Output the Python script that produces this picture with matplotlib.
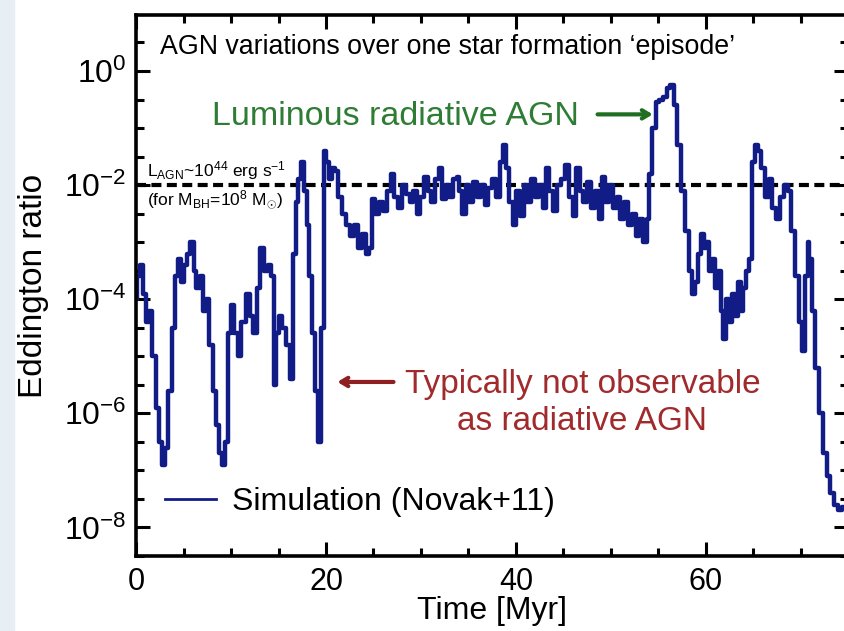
import numpy as np
import matplotlib
matplotlib.use("Agg")
import matplotlib.pyplot as plt
from matplotlib.lines import Line2D
from matplotlib.patches import Rectangle

plt.rcParams['font.family'] = ['Liberation Sans', 'DejaVu Sans']
plt.rcParams['mathtext.fontset'] = 'custom'
plt.rcParams['mathtext.rm'] = 'Liberation Sans'
plt.rcParams['mathtext.it'] = 'Liberation Sans:italic'
plt.rcParams['mathtext.bf'] = 'Liberation Sans:bold'

# time [Myr] and log10(Eddington ratio)
time_myr = [
    0.0, 0.3, 0.6, 0.9, 1.2, 1.5, 1.9, 2.3, 2.6, 2.9, 3.2, 3.6, 4.0, 4.3, 4.6,
    4.9, 5.2, 5.5, 5.9, 6.2, 6.5, 6.9, 7.2, 7.5, 7.9, 8.3, 8.6, 8.9, 9.2, 9.5,
    9.8, 10.1, 10.5, 10.9, 11.3, 11.8, 12.1, 12.5, 12.9, 13.3, 13.7, 14.0, 14.4,
    14.6, 14.9, 15.2, 15.6, 16.0, 16.4, 16.7, 16.9, 17.2, 17.5, 17.8, 18.1, 18.4,
    18.7, 19.0, 19.3, 19.6, 19.9, 20.2, 20.5, 20.8, 21.1, 21.5, 21.9, 22.3, 22.7,
    23.1, 23.6, 24.0, 24.4, 24.7, 25.0, 25.4, 25.8, 26.2, 26.6, 27.0, 27.4, 27.8,
    28.2, 28.6, 29.0, 29.4, 29.7, 30.1, 30.5, 30.9, 31.3, 31.7, 32.0, 32.4, 32.8,
    33.2, 33.6, 33.9, 34.2, 34.5, 34.9, 35.3, 35.7, 36.1, 36.5, 36.9, 37.3, 37.7,
    38.1, 38.5, 38.8, 39.1, 39.5, 39.9, 40.2, 40.6, 41.0, 41.4, 41.8, 42.2, 42.6,
    43.0, 43.3, 43.7, 44.1, 44.5, 44.9, 45.4, 45.8, 46.2, 46.5, 46.9, 47.3, 47.7,
    48.1, 48.5, 48.9, 49.2, 49.6, 50.0, 50.4, 50.8, 51.2, 51.6, 52.0, 52.4, 52.8,
    53.2, 53.6, 53.9, 54.2, 54.5, 54.9, 55.3, 55.7, 56.1, 56.4, 56.8, 57.2, 57.6,
    58.0, 58.4, 58.7, 59.0, 59.3, 59.6, 59.9, 60.2, 60.5, 60.8, 61.1, 61.4, 61.7,
    62.0, 62.3, 62.6, 62.9, 63.2, 63.5, 63.8, 64.1, 64.4, 64.7, 65.0, 65.3, 65.6,
    66.0, 66.4, 66.8, 67.2, 67.6, 68.0, 68.4, 68.8, 69.2, 69.6, 70.0, 70.3, 70.6,
    70.8, 71.0, 71.3, 71.7, 72.1, 72.5, 72.9, 73.3, 73.7, 74.1, 74.5, 75.0,
]
log_edd = [
    -4.0, -3.6, -3.4, -3.9, -4.4, -4.2, -5.0, -5.9, -6.5, -6.9, -6.6, -5.6, -4.5, -3.6, -3.3,
    -3.7, -3.4, -3.2, -3.0, -3.5, -3.8, -3.6, -4.2, -4.0, -4.8, -5.6, -6.2, -6.7, -6.9, -6.5,
    -4.6, -4.1, -4.6, -5.0, -4.4, -3.9, -4.3, -4.6, -3.8, -3.1, -3.5, -3.4, -3.6,
    -5.5, -4.6, -4.3, -4.5, -4.8, -5.4, -3.2, -2.3, -1.9, -1.6, -2.1, -2.7, -3.6,
    -4.6, -5.6, -6.5, -4.5, -1.4, -1.6, -1.9, -1.7, -1.75, -2.2, -2.5, -2.7, -2.9,
    -2.7, -3.1, -2.85, -3.2, -3.1, -2.25, -2.5, -2.3, -2.45, -2.1, -1.8, -2.2, -2.4,
    -2.0, -2.15, -2.3, -2.1, -2.5, -2.2, -1.85, -2.1, -2.3, -1.9, -1.7, -2.25, -2.0,
    -2.2, -1.9, -1.85, -2.1, -2.5, -2.0, -2.3, -1.95, -2.2, -2.0, -2.35, -2.05, -1.9,
    -2.2, -1.6, -1.3, -1.7, -2.3, -2.7, -2.1, -2.55, -2.0, -2.3, -1.9, -2.2, -2.0,
    -2.4, -1.7, -2.1, -2.45, -2.0, -1.9, -1.65, -2.2, -2.55, -1.7, -2.1, -2.3, -1.95,
    -2.4, -2.1, -2.6, -1.85, -2.3, -2.0, -2.4, -2.2, -2.6, -2.3, -2.7, -2.5, -2.9,
    -2.6, -3.0, -2.6, -1.8, -1.0, -0.55, -0.5, -0.45, -0.3, -0.25, -0.6, -1.3, -2.1,
    -2.8, -3.5, -3.9, -3.7, -3.2, -2.85, -3.1, -3.0, -3.5, -3.3, -3.8, -3.5, -4.2,
    -4.7, -4.0, -4.4, -3.9, -4.3, -3.7, -4.2, -3.8, -3.5, -3.3, -1.6, -1.3, -1.4,
    -1.7, -2.2, -1.9, -2.4, -2.6, -2.2, -2.0, -2.1, -2.8, -3.6, -4.4, -4.9, -3.6,
    -3.0, -3.3, -4.2, -5.2, -6.0, -6.7, -7.1, -7.4, -7.6, -7.7, -7.65, -7.6,
]
ratio = 10.0 ** np.array(log_edd)

x_major = [0, 20, 40, 60]
y_major_exp = [0, -2, -4, -6, -8]

fig = plt.figure(figsize=(8.45, 6.31), dpi=100)
fig.patches.append(Rectangle((0, 0), 14 / 845, 1, transform=fig.transFigure,
                             color='#e7eef4', zorder=-1))
ax = fig.add_axes([0.161, 0.1189, 0.843, 0.857])

navy = '#121c86'
ax.plot(time_myr, ratio, color=navy, lw=3.2, drawstyle='steps-mid')
ax.axhline(1e-2, color='black', lw=3, dashes=(2.4, 1.3), zorder=1)

ax.set_yscale('log')
ax.set_xlim(0, 75)
ax.set_ylim(10 ** -8.30, 10 ** 0.978)

ax.set_xticks(x_major)
ax.set_xticks(np.arange(5, 75, 5), minor=True)
ax.set_yticks([10.0 ** e for e in y_major_exp])
ax.set_yticklabels([r'$\mathregular{10^{%d}}$' % e for e in y_major_exp])
minor_y = [10.0 ** e for e in np.arange(-8.5, 1.0, 0.5) if e not in y_major_exp]
ax.set_yticks(minor_y, minor=True)
ax.set_yticklabels([], minor=True)
ax.tick_params(which='both', direction='in', top=True, right=True, width=2.2,
               colors='black')
ax.tick_params(axis='x', labelsize=22, pad=8)
ax.tick_params(axis='y', labelsize=23, pad=7)
ax.tick_params(which='major', length=10)
ax.tick_params(which='minor', length=6)
for s in ax.spines.values():
    s.set_linewidth(2.6)

ax.set_xlabel('Time [Myr]', fontsize=23)
ax.set_ylabel('Eddington ratio', fontsize=24)
ax.xaxis.set_label_coords(0.5, -0.074)
ax.yaxis.set_label_coords(-0.122, 0.5)

ax.text(2.5, 10 ** 0.42, u'AGN variations over one star formation \u2018episode\u2019',
        fontsize=19.3, va='center', ha='left')

green = '#2f7d34'
ax.text(8.0, 10 ** -0.8, 'Luminous radiative AGN', color=green, fontsize=24.5,
        va='center', ha='left')
ax.annotate('', xy=(54.7, 10 ** -0.76), xytext=(48.3, 10 ** -0.76),
            arrowprops=dict(arrowstyle='->,head_length=0.5,head_width=0.3',
                            color='#1f6e22', lw=3))

red = '#a02a2c'
ax.text(47.0, 10 ** -5.5, 'Typically not observable', color=red, fontsize=24,
        va='center', ha='center')
ax.text(47.0, 10 ** -6.15, 'as radiative AGN', color=red, fontsize=24,
        va='center', ha='center')
ax.annotate('', xy=(20.9, 10 ** -5.45), xytext=(27.4, 10 ** -5.45),
            arrowprops=dict(arrowstyle='->,head_length=0.5,head_width=0.3',
                            color='#8e2022', lw=3))

ax.text(1.2, 10 ** -1.74, r'L$_{\rm AGN}$~10$^{44}$ erg s$^{-1}$', fontsize=12.5,
        va='center', ha='left')
ax.text(1.2, 10 ** -2.25, r'(for M$_{\rm BH}$=10$^{8}$ M$_{\odot}$)', fontsize=12.5,
        va='center', ha='left')

handle = Line2D([], [], color=navy, lw=2.0)
ax.legend([handle], ['Simulation (Novak+11)'], loc='center left',
          bbox_to_anchor=(0.04, 0.10), frameon=False, fontsize=23,
          handlelength=1.6, handletextpad=0.5, borderpad=0, borderaxespad=0)

fig.savefig('out.png', dpi=100)
